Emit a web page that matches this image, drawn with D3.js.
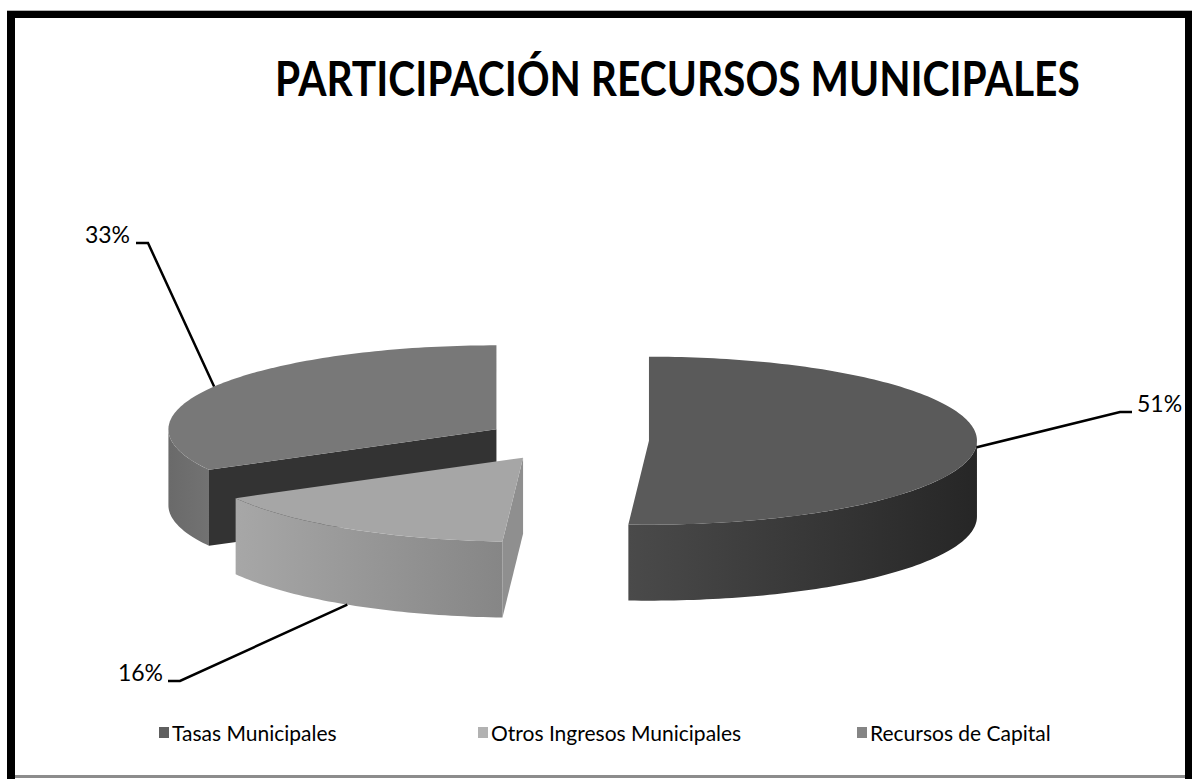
<!DOCTYPE html>
<html>
<head>
<meta charset="utf-8">
<script src="https://cdn.jsdelivr.net/npm/d3@7"></script>
<style>
  html, body { margin: 0; padding: 0; background: #fff; }
  text { font-family: Lato, "Open Sans", "Liberation Sans", sans-serif; fill: #000; }
</style>
</head>
<body>
<div id="chart"></div>
<script>
// chart data
var categories = ["Tasas Municipales", "Otros Ingresos Municipales", "Recursos de Capital"];
var values = [51, 16, 33];
var title = "PARTICIPACIÓN RECURSOS MUNICIPALES";

// greys used by the original
var topColors = ["#5a5a5a", "#a6a6a6", "#787878"];
var wallFrom = ["#4a4a4a", "#a7a7a7", "#6a6a6a"];
var wallTo = ["#262626", "#868686", "#727272"];
var cutColors = ["#3a3a3a", "#8f8f8f", "#333333"];
var legendColors = ["#5f5f5f", "#b2b2b2", "#858585"];

var width = 1192, height = 779;
var cx = 567, cy = 440, rx = 328, ry = 84, depth = 76, explode = 82;
var tilt = ry / rx;

var svg = d3.select("#chart").append("svg")
  .attr("width", width)
  .attr("height", height);
var defs = svg.append("defs");

// frame
svg.append("rect").attr("x", 7).attr("y", 10).attr("width", width - 7).attr("height", 1).attr("fill", "#b4b4b4");
svg.append("rect").attr("x", 7).attr("y", 11).attr("width", width - 7).attr("height", 7).attr("fill", "#000");
svg.append("rect").attr("x", 7).attr("y", 11).attr("width", 8).attr("height", height - 11).attr("fill", "#000");
svg.append("rect").attr("x", 1185).attr("y", 11).attr("width", 7).attr("height", height - 11).attr("fill", "#000");
svg.append("rect").attr("x", 15).attr("y", 775).attr("width", 1170).attr("height", 3).attr("fill", "#8c8c8c");

// title, squeezed horizontally to the narrow width of the original face
var titleText = svg.append("text")
  .attr("x", 0)
  .attr("y", 0)
  .style("font-size", "47px")
  .style("font-weight", "bold")
  .text(title);
var titleWidth = titleText.node().getComputedTextLength();
titleText.attr("transform", "translate(275,96) scale(" + (805 / titleWidth) + ",1)");

var pie = d3.pie().sort(null).startAngle(0).endAngle(2 * Math.PI);
var total = d3.sum(values);

var rim = function (c, a, dz) {
  return [c[0] + rx * Math.sin(a), c[1] - ry * Math.cos(a) + (dz || 0)];
};
var arcPoints = function (c, a0, a1, dz) {
  var n = Math.max(2, Math.ceil(Math.abs(a1 - a0) / 0.02));
  return d3.range(n + 1).map(function (i) {
    return rim(c, a0 + (a1 - a0) * i / n, dz);
  });
};
var line = d3.line();

var slices = pie(values).map(function (d, i) {
  var mid = (d.startAngle + d.endAngle) / 2;
  return {
    i: i,
    d: d,
    mid: mid,
    c: [cx + explode * Math.sin(mid), cy - explode * tilt * Math.cos(mid)]
  };
});

// back slice first, then the ones in front
var drawOrder = [2, 1, 0];
var pieG = svg.append("g");

drawOrder.forEach(function (idx) {
  var s = slices[idx];
  var a0 = s.d.startAngle, a1 = s.d.endAngle, c = s.c;
  var g = pieG.append("g");

  // cut faces, only the ones turned toward the viewer
  [[a0, a0 - Math.PI / 2], [a1, a1 + Math.PI / 2]].forEach(function (f) {
    if (-Math.cos(f[1]) > 0.01) {
      var p = rim(c, f[0]);
      g.append("path")
        .attr("d", line([c, p, [p[0], p[1] + depth], [c[0], c[1] + depth]]) + "Z")
        .attr("fill", cutColors[s.i]);
    }
  });

  // outer wall (front half only)
  var lo = Math.max(a0, Math.PI / 2), hi = Math.min(a1, 3 * Math.PI / 2);
  if (lo < hi) {
    var top = arcPoints(c, lo, hi, 0);
    var bottom = arcPoints(c, hi, lo, depth);
    var xs = top.map(function (p) { return p[0]; });
    var gid = "wall" + s.i;
    var grad = defs.append("linearGradient")
      .attr("id", gid)
      .attr("gradientUnits", "userSpaceOnUse")
      .attr("x1", d3.min(xs)).attr("x2", d3.max(xs))
      .attr("y1", 0).attr("y2", 0);
    grad.append("stop").attr("offset", 0).attr("stop-color", wallFrom[s.i]);
    grad.append("stop").attr("offset", 1).attr("stop-color", wallTo[s.i]);
    g.append("path")
      .attr("d", line(top.concat(bottom)) + "Z")
      .attr("fill", "url(#" + gid + ")");
  }

  // top face
  g.append("path")
    .attr("d", line([c].concat(arcPoints(c, a0, a1, 0))) + "Z")
    .attr("fill", topColors[s.i]);
});

// data labels with leader lines
var labelSpots = [
  {x: 1137, y: 412, anchor: "start", dz: 4, elbow: 1132, knee: 1120},
  {x: 163, y: 681, anchor: "end", dz: depth, elbow: 168, knee: 180},
  {x: 130, y: 243, anchor: "end", dz: 0, elbow: 136, knee: 148}
];

slices.forEach(function (s) {
  var spot = labelSpots[s.i];
  var p = rim(s.c, s.mid, spot.dz);
  svg.append("path")
    .attr("d", line([[spot.elbow, spot.y], [spot.knee, spot.y], p]))
    .attr("fill", "none")
    .attr("stroke", "#000")
    .attr("stroke-width", 2.5);
  svg.append("text")
    .attr("x", spot.x)
    .attr("y", spot.y)
    .attr("text-anchor", spot.anchor)
    .style("font-size", "23px")
    .text(d3.format(".0%")(s.d.value / total));
});

// legend
var legendX = [159, 478, 857];
var legend = svg.append("g").selectAll("g")
  .data(categories)
  .enter()
  .append("g")
  .attr("transform", function (d, i) { return "translate(" + legendX[i] + ",727)"; });

legend.append("rect")
  .attr("width", 10)
  .attr("height", 11)
  .attr("fill", function (d, i) { return legendColors[i]; });

legend.append("text")
  .attr("x", 13)
  .attr("y", 14)
  .style("font-size", "21px")
  .text(function (d) { return d; });
</script>
</body>
</html>
